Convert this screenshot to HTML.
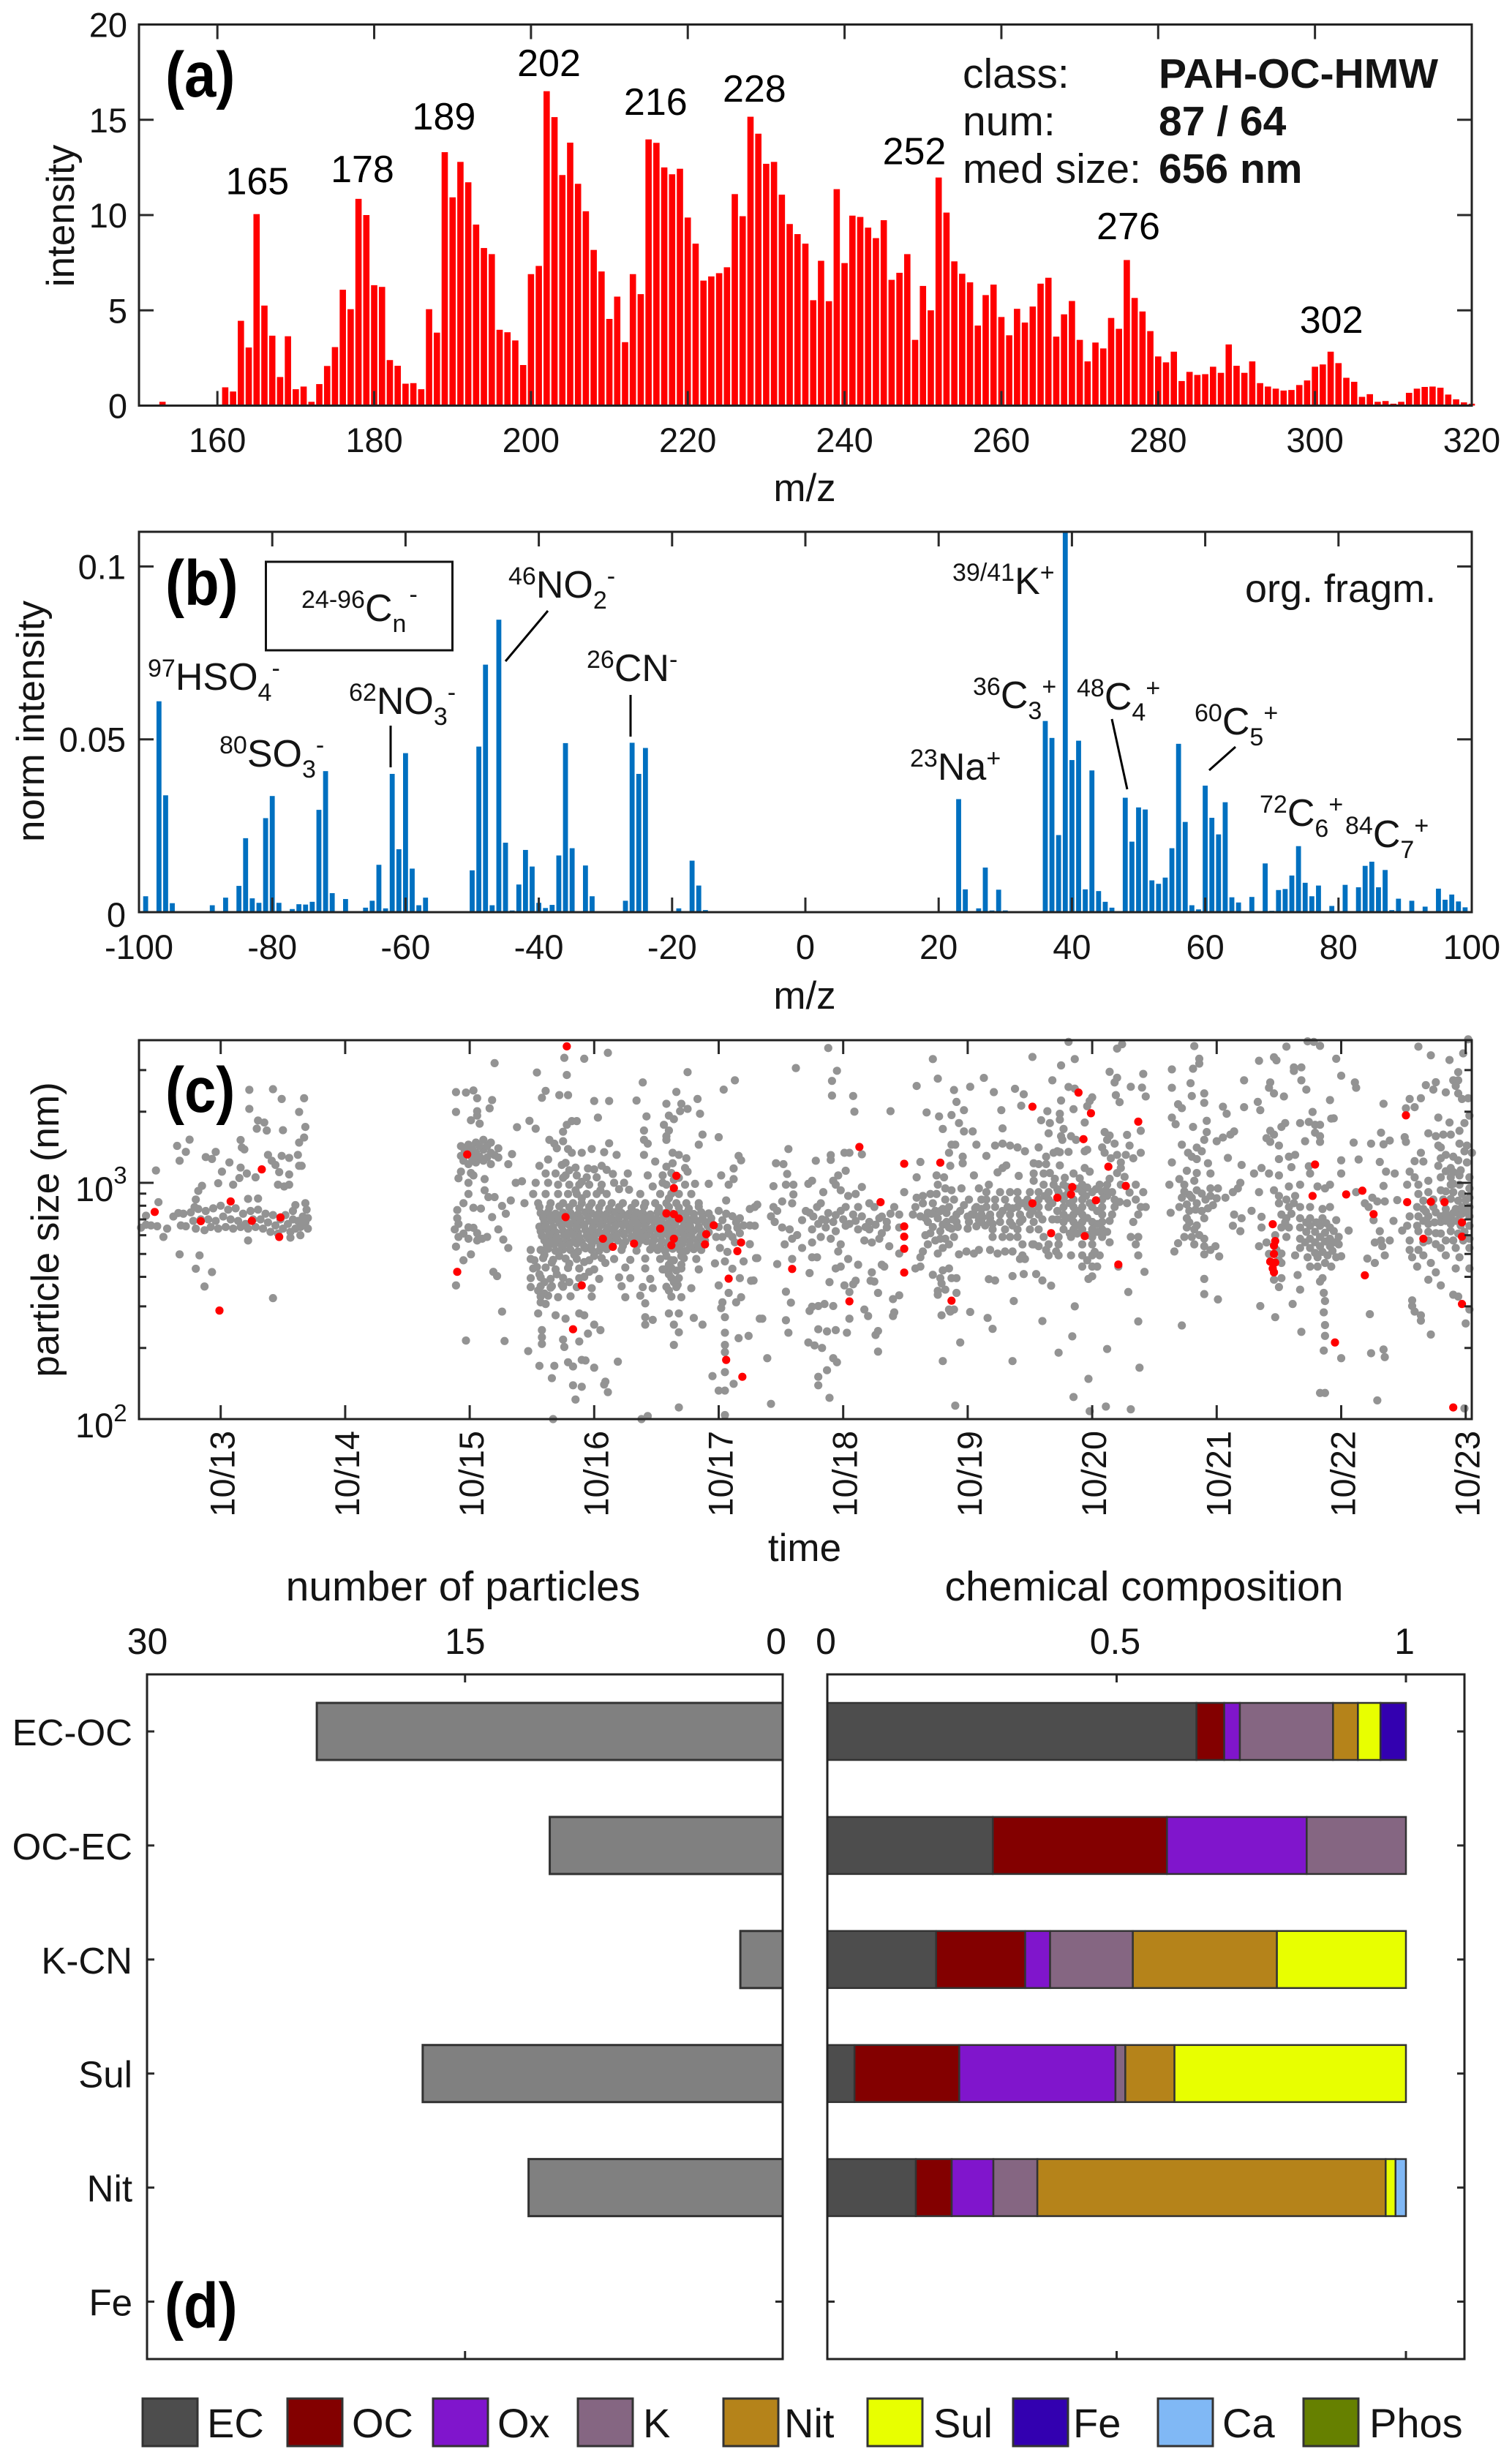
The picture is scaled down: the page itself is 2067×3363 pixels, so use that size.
<!DOCTYPE html>
<html lang="en">
<head>
<meta charset="utf-8">
<title>PAH-OC-HMW particle class</title>
<style>
html,body{margin:0;padding:0;background:#fff}
svg{display:block}
text{font-family:"Liberation Sans",sans-serif;fill:#141414}
.ann{fill:#000}
.pl{font-weight:bold;font-size:78px;fill:#000}
</style>
</head>
<body>
<svg id="fig" xmlns="http://www.w3.org/2000/svg" width="2067" height="3363" viewBox="0 0 2067 3363">
<rect width="2067" height="3363" fill="#fff"/>
<defs><clipPath id="clipB"><rect x="190" y="727" width="1822" height="520"/></clipPath></defs>
<g id="layerA"></g>
<g id="layerB"></g>
<g id="layerC"></g>
<g id="layerD"></g>

<text class="pl" transform="translate(226,132) scale(1,1.12)">(a)</text>
<text x="1100" y="685" font-size="53" text-anchor="middle">m/z</text>
<text transform="translate(101,295) rotate(-90)" font-size="53" text-anchor="middle">intensity</text>
<g font-size="57" class="ann">
<text x="1316" y="120">class:</text>
<text x="1316" y="185">num:</text>
<text x="1316" y="250">med size:</text>
<text x="1584" y="120" font-weight="bold">PAH-OC-HMW</text>
<text x="1584" y="185" font-weight="bold">87 / 64</text>
<text x="1584" y="250" font-weight="bold">656 nm</text>
</g>

<text class="pl" transform="translate(226,827) scale(1,1.12)">(b)</text>
<text x="1100" y="1379" font-size="53" text-anchor="middle">m/z</text>
<text transform="translate(60,986) rotate(-90)" font-size="53" text-anchor="middle">norm intensity</text>
<rect x="363.5" y="768" width="255" height="121" fill="none" stroke="#111" stroke-width="3"/>
<g font-size="52" class="ann">
<text x="412" y="849"><tspan font-size="34" dy="-18">24-96</tspan><tspan dy="18">C</tspan><tspan font-size="34" dy="15">n</tspan><tspan font-size="34" dy="-40" dx="4">-</tspan></text>
<text x="202" y="943"><tspan font-size="34" dy="-18">97</tspan><tspan dy="18">HSO</tspan><tspan font-size="34" dy="15">4</tspan><tspan font-size="34" dy="-33">-</tspan></text>
<text x="300" y="1048"><tspan font-size="34" dy="-18">80</tspan><tspan dy="18">SO</tspan><tspan font-size="34" dy="15">3</tspan><tspan font-size="34" dy="-33">-</tspan></text>
<text x="477" y="976"><tspan font-size="34" dy="-18">62</tspan><tspan dy="18">NO</tspan><tspan font-size="34" dy="15">3</tspan><tspan font-size="34" dy="-33">-</tspan></text>
<text x="695" y="817"><tspan font-size="34" dy="-18">46</tspan><tspan dy="18">NO</tspan><tspan font-size="34" dy="15">2</tspan><tspan font-size="34" dy="-33">-</tspan></text>
<text x="802" y="931"><tspan font-size="34" dy="-18">26</tspan><tspan dy="18">CN</tspan><tspan font-size="34" dy="-18">-</tspan></text>
<text x="1302" y="812"><tspan font-size="34" dy="-18">39/41</tspan><tspan dy="18">K</tspan><tspan font-size="34" dy="-18">+</tspan></text>
<text x="1330" y="968"><tspan font-size="34" dy="-18">36</tspan><tspan dy="18">C</tspan><tspan font-size="34" dy="15">3</tspan><tspan font-size="34" dy="-33">+</tspan></text>
<text x="1472" y="970"><tspan font-size="34" dy="-18">48</tspan><tspan dy="18">C</tspan><tspan font-size="34" dy="15">4</tspan><tspan font-size="34" dy="-33">+</tspan></text>
<text x="1244" y="1066"><tspan font-size="34" dy="-18">23</tspan><tspan dy="18">Na</tspan><tspan font-size="34" dy="-18">+</tspan></text>
<text x="1633" y="1004"><tspan font-size="34" dy="-18">60</tspan><tspan dy="18">C</tspan><tspan font-size="34" dy="15">5</tspan><tspan font-size="34" dy="-33">+</tspan></text>
<text x="1722" y="1129"><tspan font-size="34" dy="-18">72</tspan><tspan dy="18">C</tspan><tspan font-size="34" dy="15">6</tspan><tspan font-size="34" dy="-33">+</tspan></text>
<text x="1839" y="1158"><tspan font-size="34" dy="-18">84</tspan><tspan dy="18">C</tspan><tspan font-size="34" dy="15">7</tspan><tspan font-size="34" dy="-33">+</tspan></text>
<text x="1702" y="823" font-size="54">org. fragm.</text>
</g>
<g stroke="#000" stroke-width="3">
<line x1="749" y1="835" x2="691" y2="904"/>
<line x1="534" y1="992" x2="534" y2="1049"/>
<line x1="862" y1="950" x2="862" y2="1007"/>
<line x1="1520" y1="983" x2="1541" y2="1079"/>
<line x1="1689" y1="1021" x2="1653" y2="1053"/>
</g>

<text class="pl" transform="translate(226,1520) scale(1,1.12)">(c)</text>
<text x="1100" y="2134" font-size="53" text-anchor="middle">time</text>
<text transform="translate(80,1681) rotate(-90)" font-size="53" text-anchor="middle">particle size (nm)</text>
<text x="103" y="1642" font-size="47">10<tspan font-size="33" dy="-24">3</tspan></text>
<text x="103" y="1965" font-size="47">10<tspan font-size="33" dy="-22">2</tspan></text>

<text class="pl" transform="translate(225,3182) scale(1,1.12)">(d)</text>
<text x="633" y="2188" font-size="57" text-anchor="middle">number of particles</text>
<text x="1564" y="2188" font-size="57" text-anchor="middle">chemical composition</text>
<g id="legend"></g>
</svg>
<script>
// ---------- panel (a) data ----------
const massA=[153,161,162,163,164,165,166,167,168,169,170,171,172,173,174,175,176,177,178,179,180,181,182,183,184,185,186,187,188,189,190,191,192,193,194,195,196,197,198,199,200,201,202,203,204,205,206,207,208,209,210,211,212,213,214,215,216,217,218,219,220,221,222,223,224,225,226,227,228,229,230,231,232,233,234,235,236,237,238,239,240,241,242,243,244,245,246,247,248,249,250,251,252,253,254,255,256,257,258,259,260,261,262,263,264,265,266,267,268,269,270,271,272,273,274,275,276,277,278,279,280,281,282,283,284,285,286,287,288,289,290,291,292,293,294,295,296,297,298,299,300,301,302,303,304,305,306,307,308,309,310,311,312,313,314,315,316,317,318,319,320];
const intensityA=[0.2,0.96,0.74,4.45,3.05,10.05,5.25,3.67,1.5,3.64,0.86,1.0,0.2,1.13,2.08,3.07,6.08,5.06,10.85,10,6.32,6.23,2.39,2.09,1.15,1.18,0.86,5.06,3.83,13.3,10.93,12.79,11.72,9.5,8.27,7.95,3.98,3.85,3.42,2.13,6.9,7.33,16.5,15.14,12.1,13.8,11.64,10.2,8.17,7.04,4.55,5.72,3.33,6.9,5.85,13.97,13.79,12.5,12.14,12.43,9.87,8.5,6.56,6.78,6.95,7.26,11.1,9.94,15.16,14.27,12.69,12.79,11.07,9.53,9.0,8.5,5.53,7.6,5.48,11.36,7.48,9.97,9.9,9.34,8.79,9.73,6.6,6.97,7.95,3.45,6.28,5.0,11.97,10.13,7.57,6.92,6.47,4.2,5.8,6.35,4.65,3.69,5.08,4.36,5.2,6.4,6.71,3.62,4.79,5.49,3.45,2.32,3.31,3.0,4.6,4.03,7.64,5.65,4.94,3.91,2.58,2.27,2.83,1.29,1.77,1.61,1.65,2.04,1.72,3.21,2.09,1.72,2.32,1.18,1.0,0.89,0.79,0.82,1.08,1.32,2.04,2.16,2.83,2.23,1.46,1.25,0.46,0.6,0.2,0.24,0.1,0.2,0.67,0.89,0.98,1.0,0.94,0.58,0.33,0.17,0.1];
const ticksAx=[160,180,200,220,240,260,280,300,320];
const ticksAy=[0,5,10,15,20];
const peakLabels=['165','178','189','202','216','228','252','276','302'];
const peakLabelMass=[165.1,178.5,188.9,202.3,215.9,228.5,248.9,276.2,302.1];
const peakLabelHeight=[11.09,11.73,14.49,17.29,15.26,15.95,12.67,8.73,3.82];

// ---------- panel (b) data ----------
const mzB=[-99,-98,-97,-96,-95,-93,-89,-88,-87,-85,-84,-83,-82,-81,-80,-79,-78,-77,-76,-75,-74,-73,-72,-71,-69,-67,-66,-65,-64,-63,-62,-61,-60,-59,-58,-57,-55,-53,-51,-50,-49,-48,-47,-46,-45,-44,-43,-42,-41,-40,-39,-38,-37,-36,-35,-33,-32,-31,-27,-26,-25,-24,-19,-17,-16,-15,-13,15,19,23,24,25,26,27,28,29,30,36,37,38,39,40,41,42,43,44,45,46,48,49,50,51,52,53,54,55,56,57,58,59,60,61,62,63,64,65,67,69,70,71,72,73,74,75,76,77,79,81,83,84,85,86,87,88,89,91,93,95,96,97,98,99];
const normB=[0.0046,0.0002,0.061,0.0338,0.0026,0.0003,0.002,0.0003,0.0042,0.0076,0.0214,0.004,0.0027,0.0272,0.0336,0.0027,0.0002,0.0009,0.0023,0.0022,0.003,0.0296,0.0408,0.0055,0.0038,0.0002,0.0013,0.0033,0.0137,0.0011,0.04,0.0182,0.046,0.0126,0.002,0.0042,0.0002,0.0002,0.0002,0.0121,0.0479,0.0716,0.002,0.0846,0.0201,0.0005,0.008,0.018,0.0132,0.0027,0.0012,0.0021,0.0164,0.0489,0.0185,0.0135,0.0046,0.0002,0.0033,0.049,0.04,0.0475,0.0011,0.0149,0.0077,0.0006,0.0002,0.0002,0.0002,0.0327,0.0066,0.0002,0.0011,0.0129,0.0005,0.0065,0.0005,0.0553,0.0504,0.0223,0.14,0.044,0.0496,0.0066,0.041,0.0061,0.003,0.0013,0.0331,0.0204,0.0303,0.0297,0.0092,0.0082,0.01,0.0185,0.0487,0.0261,0.002,0.0008,0.0366,0.0273,0.0225,0.0318,0.0043,0.0028,0.0044,0.0141,0.0004,0.0064,0.0067,0.0106,0.0191,0.0085,0.0046,0.0077,0.0018,0.0079,0.0072,0.0134,0.0146,0.0072,0.0122,0.0006,0.0039,0.0033,0.0016,0.0068,0.0036,0.0051,0.0031,0.0014];
const ticksBx=[-100,-80,-60,-40,-20,0,20,40,60,80,100];
const ticksBy=[0,0.05,0.1];
const tickLabelsBy=['0','0.05','0.1'];

// ---------- panel (c) data: alternating day-of-October, size in nm ----------
const greyOct12to13=[12.48,1128,12.5,828,12.4,726,12.36,646,12.54,590,12.67,498,12.65,1433,12.75,1523,12.72,1352,12.67,1240,12.88,1285,12.93,1262,12.96,1352,12.85,971,12.82,924,12.8,850,12.79,789,12.98,996,13.01,1115,13.07,1220,13.16,1518,13.17,1411,13.19,1385,13.16,1160,13.15,1048,13.1,982,13.23,2475,13.23,2055,13.3,1835,13.35,1800,13.29,1695,13.37,1665,13.42,2490,13.49,2264,13.5,1670,13.63,1995,13.67,2280,13.68,1724,13.67,1555,13.63,1480,13.62,1313,13.55,1275,13.49,1300,13.38,1313,13.41,1240,13.44,1190,13.47,1110,13.55,1085,13.63,1180,13.65,1180,13.46,982,13.51,965,13.55,982,13.28,1055,13.21,1095,13.22,855,13.3,858,12.8,433,12.93,419,12.83,493,12.87,364,13.42,325,13.22,570,13.56,586,13.64,600,13.68,820,13.6,805,13.58,760,12.4,665,12.44,660,12.49,655,12.57,640,12.62,720,12.66,745,12.68,660,12.7,740,12.72,655,12.76,750,12.78,690,12.8,640,12.82,775,12.84,700,12.87,630,12.88,760,12.9,700,12.92,650,12.94,780,12.96,690,12.98,640,13,800,13.02,720,13.04,650,13.06,770,13.08,700,13.1,640,13.12,780,13.14,690,13.16,650,13.18,740,13.2,670,13.22,640,13.24,760,13.26,700,13.28,650,13.3,770,13.32,700,13.34,640,13.36,740,13.38,680,13.4,620,13.42,730,13.44,660,13.46,610,13.48,700,13.5,640,13.52,730,13.54,670,13.56,620,13.58,700,13.6,640,13.62,690,13.64,650,13.66,720,13.68,680,13.7,640,13.7,710,13.69,770];
const greyOct15=[14.89,2420,14.89,1995,14.97,2410,15.03,2460,15.06,2280,15.18,2240,15.16,2067,15.06,2010,15.06,1925,15.01,1840,15.08,1780,14.93,1430,14.93,1300,14.99,1450,14.99,1320,14.99,1200,15.05,1480,15.05,1340,15.05,1220,15.11,1520,15.11,1380,15.11,1240,15.17,1480,15.17,1340,15.17,1200,15.23,1400,15.23,1280,15.01,1100,15.31,1199,15.34,1323,14.91,1045,14.93,1115,15.03,1075,14.99,1000,14.99,897,15.12,1037,15.12,930,15.15,870,15.2,870,15.09,778,15.03,784,14.9,767,14.95,820,14.9,708,15.18,716,15.26,798,15.29,740,15.33,842,14.88,635,14.91,670,14.91,590,14.95,610,14.99,580,15.03,645,15.06,612,15.1,580,15.14,590,15.06,570,14.99,648,14.89,537,15.23,635,15.27,575,15.31,530,14.95,470,15.01,498,15.19,420,15.22,403,14.89,368,15.26,285,14.97,215,15.28,214,15.2,3210,14.96,1370,15.02,1390,15.08,1290,15.14,1430,15.2,1310,14.95,1240,15.08,1430,15.14,1280,15.02,1270];
const greyOct16Upper=[16.11,3550,15.92,3350,15.76,3380,15.78,2860,15.54,2930,15.61,2450,15.58,2290,15.72,2350,15.79,2350,16,2220,16.12,2220,16.03,1888,16.39,2660,16.34,2230,16.66,2425,16.75,2940,16.83,2264,16.58,2160,16.7,2160,16.75,2055,16.69,2010,16.85,1960,16.6,1925,16.42,1910,16.64,1860,16.56,1760,16.6,1665,16.58,1575,16.58,1520,16.4,1665,16.4,1520,16.43,1465,16.87,1600,16.84,1450,15.48,1830,15.53,1695,15.38,1720,15.86,1825,15.82,1825,15.78,1760,15.75,1645,15.64,1520,15.75,1500,15.68,1465,15.79,1390,15.82,1340,15.9,1340,15.98,1390,16.12,1470,16.08,1348,16.18,1313,16.4,1313,16.63,1340,16.68,1313,16.74,1270,15.7,1400,15.63,1255,15.56,1180,15.74,1190,15.77,1215,16.49,1230,16.58,1170,16.06,1180,16.1,1135,16.27,1095,16.43,1075,16.55,1075,16.73,1155,16.75,1115,16.81,990,16.92,990,16.24,1000,16.28,935,15.37,1000,15.42,1015,15.61,1095,15.69,1095,15.77,1075,15.86,1075,15.94,1055,16.02,1055,15.53,1000,15.63,1000,15.71,982,15.8,982,15.88,982,15.96,982,16.06,982,16.47,965,16.58,982,16.73,982,15.51,897,15.61,897,15.71,897,15.79,897,15.86,897,15.94,897,16.02,897,16.1,897,16.37,897,16.53,897,16.68,897,16.78,897,15.44,820,15.55,820,15.65,820,15.75,820,15.83,820,15.9,820,15.98,820,16.06,820,16.14,820,16.23,820,16.33,820,16.41,820,16.49,820,16.58,820,16.66,820,16.74,820,16.84,820];
const greyOct16Band=[15.57,745,15.63,752,15.69,740,15.75,748,15.81,745,15.87,735,15.93,750,15.98,742,16.04,745,16.1,738,16.16,752,16.22,745,16.28,740,16.34,748,16.39,745,16.45,735,16.51,750,16.57,745,16.63,740,16.69,748,16.74,745,16.8,738,16.86,750,16.92,742,15.6,683,15.66,690,15.72,678,15.78,685,15.84,683,15.9,675,15.96,690,16.01,683,16.07,680,16.13,688,16.19,683,16.25,678,16.31,690,16.37,683,16.42,680,16.48,685,16.54,683,16.6,675,16.66,690,16.72,683,16.77,680,16.83,688,16.89,683,16.94,678,15.57,624,15.63,630,15.69,618,15.75,626,15.81,624,15.87,615,15.93,632,15.98,624,16.04,620,16.1,628,16.16,624,16.22,618,16.28,632,16.34,624,16.39,620,16.45,626,16.51,624,16.57,618,16.63,630,16.69,624,16.74,620,16.8,628,16.86,624,16.92,618,15.6,570,15.66,576,15.72,565,15.78,572,15.84,570,15.9,562,15.96,578,16.01,570,16.07,566,16.13,574,16.19,570,16.25,564,16.31,578,16.37,570,16.42,566,16.48,572,16.54,570,16.6,564,16.66,576,16.72,570,16.77,566,16.83,574,16.89,570,15.49,520,15.57,520,15.63,526,15.69,515,15.75,522,15.81,520,15.87,512,15.93,528,15.98,520,16.04,516,16.1,524,16.22,520,16.34,516,16.45,522,16.51,520,16.57,514,16.63,526,16.69,520,16.74,516,16.8,524,16.86,520];
const greyOct16Fill=[15.59,712,15.65,718,15.71,708,15.77,715,15.83,722,15.89,705,15.95,716,16.02,710,16.08,719,16.14,706,16.2,714,16.26,721,16.32,708,16.38,716,16.44,712,16.5,705,16.56,718,16.62,711,16.68,722,16.74,707,16.8,715,16.87,709,15.56,652,15.61,660,15.67,648,15.74,656,15.8,663,15.86,645,15.92,657,15.99,650,16.05,661,16.11,646,16.17,655,16.23,662,16.29,649,16.35,658,16.41,652,16.47,644,16.53,659,16.59,651,16.65,663,16.71,647,16.77,656,16.84,650,16.91,660,15.58,597,15.64,602,15.7,590,15.76,600,15.82,606,15.88,588,15.94,598,16,594,16.06,604,16.12,590,16.18,597,16.24,603,16.3,592,16.36,600,16.42,596,16.48,588,16.54,601,16.6,594,16.66,606,16.72,590,16.78,599,16.85,593,15.62,545,15.68,550,15.74,540,15.8,548,15.86,553,15.92,538,15.98,547,16.05,543,16.11,552,16.23,540,16.35,550,16.47,544,16.53,538,16.59,549,16.65,544,16.71,553,16.77,540,16.83,548,15.56,790,15.64,785,15.72,795,15.8,788,15.88,780,15.96,792,16.04,786,16.12,778,16.2,790,16.3,784,16.4,792,16.52,782,16.6,790,16.68,786,16.76,778,16.84,792,15.52,470,15.6,495,15.66,460,15.72,490,15.8,455,15.84,496,15.92,462,16,490,16.09,458,16.58,490,16.6,450,16.64,470,16.66,425,16.6,410,16.64,380,16.6,350,16.7,490,16.7,450,16.56,430,16.67,370,15.54,440,15.56,410,15.6,380,15.55,350,15.7,410,15.74,370,15.6,340,15.66,365,15.8,380,15.92,400,15.96,420,16.62,900,16.6,860,16.64,1030,16.62,1100,16.55,1000,16.68,1050,16.63,1210,15.85,930,15.9,1010,15.8,1130,15.75,1050,15.85,1160,15.95,1150,15.9,860,16,1140,16.05,930,16.15,1090,16.2,940,16.16,1000];
const greyOct16Low=[15.49,476,15.59,480,15.67,472,15.77,478,15.86,476,15.96,470,16.06,480,16.16,476,16.29,472,16.41,478,16.53,476,16.62,470,16.72,480,16.82,476,15.51,434,15.61,438,15.69,430,15.79,436,15.88,434,16,430,16.25,438,16.41,434,16.55,430,16.62,436,16.7,434,16.84,430,15.49,395,15.57,398,15.65,392,15.75,396,15.88,395,16.04,392,16.2,398,16.29,395,16.45,392,16.62,396,16.68,395,15.49,362,15.57,365,15.65,360,15.75,363,15.86,362,15.98,358,16.22,365,16.39,362,16.47,358,16.58,363,16.66,362,16.78,358,15.57,330,15.63,333,15.71,328,15.81,331,15.98,330,16.25,328,16.37,333,16.62,330,16.7,328,15.57,312,15.55,280,15.61,307,15.69,275,15.77,266,15.88,280,15.92,275,16.41,309,16.41,270,16.47,263,16.41,251,16.6,280,16.68,280,16.64,251,16.8,268,16.87,251,16,251,16.05,238,15.58,238,15.58,222,15.58,208,15.75,217,15.76,202,15.88,213,15.95,230,16.68,233,16.64,206,15.47,194,15.56,168,15.68,168,15.79,174,15.83,167,15.9,178,15.93,177,16,165,16.19,175,15.66,149,15.83,139,15.9,137,15.85,121,16.09,144,16.08,140,16.11,130,16.68,112,15.67,100,16.38,100,16.43,103];
const greyOct17=[17.13,2715,17.04,2480,17,1560,17.16,1300,17.18,1245,17.12,1150,17.02,1075,17.08,982,17.12,1037,17.06,842,17,761,16.94,708,17.03,695,17.11,722,17.17,708,17.25,660,17.29,790,17.25,775,17.07,645,17.15,645,17.03,590,17.11,590,17.17,612,17.07,510,17.01,530,17.25,550,17.3,480,16.97,456,17.05,465,17.2,465,17.11,433,17.17,395,17.26,385,17,368,17.08,342,17.18,328,17.14,312,17.03,312,17.02,295,17.05,270,17.05,232,17.16,220,17.24,225,17.05,206,17.05,192,16.95,152,17.05,158,17,132,17.05,132,17.12,141,17.05,104,17.33,266,17.06,740,17.14,680,17.2,660,17,650,17.08,610,17.13,560,16.98,590];
const greyOct18=[17.62,3060,17.88,3720,17.95,2980,17.91,2700,17.91,2340,18.08,2330,18.09,2000,18.38,2010,17.56,1390,17.46,1210,17.52,1200,17.55,1090,17.78,1240,17.9,1310,17.9,1250,18.01,1340,18.05,1340,18.15,1320,18.02,1125,17.96,1075,17.44,968,17.54,982,17.6,982,17.6,893,17.72,990,17.75,1020,17.84,913,17.92,1020,17.94,982,17.98,930,18.04,880,18.1,897,18.15,960,17.31,808,17.44,790,17.47,761,17.42,721,17.45,683,17.51,647,17.57,635,17.51,834,17.59,819,17.67,695,17.73,747,17.79,790,17.82,819,17.86,695,17.92,683,17.98,761,18.02,790,18.08,734,18.12,790,18.21,819,18.25,790,18.15,721,18.21,683,18.29,708,18.35,683,18.41,790,18.45,734,17.75,635,17.8,670,17.86,647,17.94,624,18.02,658,18.12,635,18.21,635,18.31,612,18.35,647,18.45,647,17.29,658,17.59,580,17.53,549,17.63,601,17.67,530,17.75,559,17.82,590,17.9,580,17.98,549,17.79,484,17.75,484,17.96,512,18.04,476,18.12,450,18.17,570,18.23,559,18.29,580,18.37,539,18.45,502,17.47,453,17.59,476,17.73,415,17.94,434,17.98,442,18.23,418,18.33,442,18.31,450,17.31,480,17.89,380,17.28,386,18.01,368,18.1,385,18.08,372,18.25,382,18.22,385,18.05,345,17.54,346,17.58,311,18.28,342,18.45,334,18.4,322,17.73,287,17.75,299,17.8,301,17.85,307,17.92,301,18.17,291,18.2,273,18.41,283,18.4,273,17.35,266,17.54,262,18.05,266,17.56,232,17.8,240,17.87,235,17.94,238,18.03,232,18.28,236,18.26,227,17.72,211,17.77,205,17.83,200,18.28,193,17.39,181,17.92,181,17.95,174,17.87,161,17.8,151,17.8,139,17.89,123,17.42,116,17.7,760,17.76,720,17.83,700,17.88,745,17.94,730,18,700,18.05,670,18.1,690,18.18,650,18.26,665,18.31,720,18.38,740];
const greyOct19=[18.72,3340,18.76,2760,18.59,2570,18.89,2470,19.02,2550,19.13,2780,18.91,2200,18.97,2030,18.67,1985,18.77,1910,18.87,1935,18.93,1790,18.8,1690,18.97,1650,19.04,1650,19.28,1700,19.21,2420,19.38,2500,19.45,2370,19.43,2120,19.27,2030,19.07,1450,18.9,1450,18.87,1450,18.85,1340,18.96,1290,18.96,1210,18.62,1225,18.86,1180,18.59,1055,18.75,1075,18.81,1055,18.76,982,19.05,1075,19.15,1300,19.22,1438,19.28,1465,19.34,1438,19.4,1412,19.46,1360,19.31,1185,19.28,1155,19.24,1107,19.41,1070,19.53,1210,19.57,1200,19.63,1290,19.69,1340,19.74,1348,19.81,1352,19.57,1412,18.49,913,18.59,865,18.64,880,18.7,897,18.75,897,18.82,947,18.87,930,18.95,947,18.56,734,18.62,721,18.68,747,18.74,761,18.8,775,18.85,790,18.91,734,18.97,804,19.05,734,19.11,775,19.15,849,19.09,947,19.17,982,18.64,819,18.72,819,18.82,849,18.89,849,19.01,849,18.58,790,18.68,683,18.76,708,18.83,683,18.91,683,19.01,683,19.09,695,19.18,708,18.7,612,18.78,624,18.85,647,18.74,570,18.82,580,18.89,590,18.68,549,18.8,530,18.85,549,18.64,512,18.62,484,18.76,502,18.93,498,18.99,512,19.05,502,19.09,520,19.18,520,19.24,502,19.3,512,19.36,512,18.62,442,18.58,434,18.72,408,18.8,426,18.85,434,18.87,395,18.91,395,18.78,395,18.79,375,18.76,349,18.76,336,18.82,353,18.91,342,18.86,285,18.89,291,18.79,275,18.85,291,19.02,284,19.16,268,19.2,241,18.94,211,18.8,176,18.9,114,19.37,316,19.6,260,19.36,176,19.17,391,19.22,386,19.36,403,19.45,411,19.55,411,19.6,386,19.67,367,19.46,476,19.42,476,19.44,493,19.52,549,19.44,549,19.57,539,19.63,520,19.71,512,19.73,549,18.66,710,18.71,740,18.78,760,18.83,745,18.88,700,18.94,760,19,720,19.06,780,19.12,715,18.72,650,18.8,665,18.87,640,18.66,600,18.78,580,18.92,650,19,640,19.07,655,19.14,660,19.2,670];
const greyOct20=[19.52,3410,19.81,3950,19.75,3140,19.86,3340,19.68,2715,19.81,2545,19.86,2505,19.75,2230,19.64,2010,19.74,1960,19.85,2050,19.98,2220,20,2300,19.96,2110,19.59,1840,19.66,1790,19.74,1850,19.94,1800,19.65,1620,19.77,1690,19.83,1575,19.75,1575,19.76,1520,19.87,1520,20.1,1640,20.14,1585,20.12,1520,20.28,1595,20.39,1660,20.2,3700,20.24,3860,20.14,2950,20.2,2785,20.18,2660,20.41,2890,20.4,2530,20.31,2550,20.43,2320,20.19,2350,20.22,2195,20.08,1412,20.1,1340,20.18,1465,20.3,1438,20.15,1270,20.2,1313,20.27,1313,20.39,1340,20.33,1270,20.23,1220,20.23,1155,19.94,1360,19.96,1380,19.72,1360,19.63,1200,19.74,1185,19.94,1155,19.98,1115,19.61,1095,19.53,1095,19.53,1020,19.85,1095,19.61,982,19.69,982,19.77,982,19.92,982,20.06,982,20.12,982,20.23,982,20.35,982,19.15,913,19.26,913,19.34,913,19.4,913,19.5,913,19.57,913,19.65,913,19.73,913,19.81,913,19.92,913,20,913,20.08,913,20.16,913,20.41,913,19.11,849,19.22,849,19.3,849,19.4,849,19.48,849,19.57,849,19.65,849,19.77,849,19.85,849,19.92,849,20.08,849,20.18,849,20.35,849,19.07,790,19.15,790,19.22,790,19.32,790,19.4,790,19.48,790,19.57,790,19.65,790,19.77,790,19.85,790,19.92,790,20,790,20.08,790,20.18,790,20.39,790,20.43,790,19.03,734,19.11,734,19.18,734,19.26,734,19.34,734,19.42,734,19.5,734,19.57,734,19.77,734,19.85,734,19.92,734,20.08,734,20.16,734,20.37,734,19.11,683,19.18,683,19.26,683,19.34,683,19.42,683,19.53,683,19.77,683,19.85,683,19.92,683,20,683,20.08,683,20.33,683,19.2,635,19.3,635,19.4,635,19.5,635,19.57,635,19.77,635,19.85,635,19.92,635,20,635,20.08,635,19.2,590,19.28,590,19.34,590,19.4,590,19.61,590,19.73,590,19.83,590,20,590,20.08,590,20.31,590,20.37,590,19.53,549,19.65,549,19.73,549,19.92,549,20,549,20.35,549,19.65,493,19.73,493,19.83,493,19.92,493,20,493,20.06,493,20.37,493,19.92,442,20,442,20.04,442,20.21,442,20.42,420,19.97,392,20,402,20.29,345,20.37,259,19.86,300,19.84,224,19.73,191,20.12,198,20.38,165,19.97,148,19.85,124,19.98,108,20.11,113,20.31,110];
const greyOct20Fill=[19.62,880,19.68,820,19.72,760,19.78,880,19.82,820,19.88,760,19.95,880,19.98,820,20.04,760,20.12,880,20.22,830,19.72,940,19.8,960,19.88,945,19.96,955,20.03,940,20.11,930,19.68,700,19.72,700,19.81,710,19.88,660,19.96,710,20.04,670,19.82,610,19.88,610,19.96,600,20.04,620,19.44,820,19.52,760,19.6,700,19.36,780,19.44,700,19.28,760,19.36,660,20.14,690,20.12,620,20.14,560,20.02,510,19.96,470,20.28,820,20.26,1060,20.2,1100,20.14,1040,20.3,910,19.7,1040,19.78,1050,19.66,1100,19.9,1045];
const greyOct21=[20.82,3790,20.64,3020,20.86,3350,20.81,3040,20.86,3195,20.79,2640,20.64,2525,20.9,2390,20.8,2330,20.9,2180,20.69,2150,20.72,2070,20.64,1888,20.67,1770,20.81,1724,20.92,1830,20.92,1640,20.9,1520,21.05,2100,21.08,1960,21.22,2090,21.33,2200,21.35,2030,20.72,1450,20.77,1340,20.8,1290,20.84,1410,20.88,1360,20.84,1260,21,1500,21.05,1555,21.11,1600,21.14,1650,20.64,1220,20.76,1125,20.93,1210,21.09,1275,20.84,1100,20.95,1095,21.2,1190,20.62,982,20.7,1037,20.74,982,20.82,1020,20.84,930,20.8,865,20.72,865,20.7,790,20.78,761,20.84,819,20.91,849,20.95,947,21.01,947,21.07,865,20.97,804,21.17,947,21.13,913,21.19,1000,20.63,747,20.76,708,20.76,647,20.82,635,20.74,590,20.8,590,20.9,580,20.86,601,20.9,708,21.14,734,21.2,708,21.28,761,21.13,658,21.19,624,20.69,555,20.66,512,20.82,549,20.9,539,20.99,539,20.95,520,20.9,498,21.02,488,20.9,392,20.9,338,21.01,321,20.72,249,20.78,890,20.83,770,20.76,810,20.88,900,20.95,880,21,860,20.93,780,20.78,680,20.84,660,20.88,760,20.74,920];
const greyOct21to22=[21.34,3285,21.46,3400,21.48,3300,21.56,3770,21.73,3970,21.78,3950,21.83,3800,21.62,3080,21.68,3080,21.62,2975,21.68,2715,21.72,2480,21.22,2715,21.43,2660,21.42,2525,21.46,2390,21.54,2320,21.96,3350,22,2840,21.91,2240,21.77,1995,21.94,1875,21.92,1870,21.55,1790,21.52,1724,21.43,1660,21.46,1600,21.4,1545,21.43,1490,21.5,1438,21.67,1790,21.74,1810,21.79,1760,21.83,1760,21.79,1630,21.83,1575,21.71,1500,21.83,1490,21.58,1290,21.63,1313,21.5,1260,21.6,1165,21.3,1095,21.36,1155,21.42,1095,21.5,1075,21.75,1095,21.74,1175,22,1245,22,1095,21.91,982,21.34,913,21.46,930,21.5,880,21.58,965,21.67,982,21.5,819,21.56,849,21.63,880,21.81,965,21.87,947,21.91,790,21.85,775,21.75,790,21.67,790,21.58,790,21.36,718,21.52,734,21.56,708,21.67,708,21.75,708,21.85,708,21.96,695,21.36,647,21.52,647,21.58,647,21.67,647,21.75,658,21.83,658,21.91,647,22.06,628,21.56,590,21.67,580,21.75,580,21.83,590,21.91,580,21.98,590,21.34,539,21.4,559,21.67,530,21.75,530,21.83,539,21.91,539,21.98,549,21.52,502,21.63,493,21.73,484,21.81,484,21.89,493,21.96,484,22,489,21.52,458,21.75,442,21.81,442,21.87,458,21.92,442,21.65,407,21.46,389,21.52,395,21.83,382,21.85,395,21.5,362,21.67,353,21.86,342,21.87,316,21.35,301,21.61,307,21.47,270,21.86,283,21.87,250,21.68,234,21.87,225,21.86,195,22,181,21.83,129,21.87,129,21.72,620,21.79,620,21.87,615,21.94,625,21.71,560,21.79,560,21.87,565,21.95,560,21.79,505,21.85,510,21.93,515,21.72,680,21.8,680,21.88,675,21.55,680,21.6,740,21.62,820,21.47,600,21.48,520,21.5,470,21.42,500];
const greyOct22=[22.11,2660,22.12,2525,22.34,2160,22.1,1480,22.24,1465,22.34,1455,22.39,1510,22.32,1630,22.14,1255,22.31,1225,22.36,1115,22.43,1095,22.34,970,22.12,913,22.19,819,22.22,790,22.25,865,22.29,834,22.35,834,22.45,845,22.42,690,22.26,695,22.31,624,22.32,570,22.39,570,22.27,559,22.33,539,22.35,493,22.21,478,22.27,458,22.23,278,22.24,190,22.34,197,22.35,183,22.29,120];
const greyOct23=[22.62,3770,22.72,3465,22.87,3310,22.98,3530,23.02,4050,22.94,2940,22.94,2715,22.9,2715,22.92,2570,22.76,2665,22.68,2590,22.74,2480,22.84,2415,22.94,2390,23.02,2280,22.97,2264,22.64,2280,22.55,2264,22.52,2067,22.59,2090,22.78,1888,23.03,1925,22.99,1790,22.87,1800,22.95,1660,22.7,1620,22.82,1600,22.88,1600,22.76,1575,22.51,1560,22.52,1490,22.78,1438,22.8,1412,22.95,1465,23.01,1438,23.05,1340,22.99,1360,22.64,1340,22.84,1313,22.8,1270,22.9,1290,22.94,1245,22.59,1235,22.66,1230,22.78,1180,22.88,1155,23.01,1220,22.55,1115,22.59,1055,22.53,982,22.62,982,22.7,1020,22.8,1055,22.88,1055,22.95,1075,23.03,1055,22.88,982,22.95,982,23.03,947,22.62,897,22.7,913,22.8,930,22.9,913,22.97,897,23.03,865,23.03,790,22.61,790,22.66,775,22.74,790,22.84,775,22.92,775,22.97,790,22.55,721,22.62,721,22.7,721,22.8,721,22.88,721,22.95,734,23.03,721,22.53,658,22.61,658,22.7,670,22.8,683,22.88,670,23.03,658,22.49,628,22.62,624,22.76,612,22.88,624,22.55,570,22.7,570,22.84,570,23.03,580,22.55,520,22.62,520,22.8,530,22.92,530,23.03,530,22.57,484,22.66,493,22.84,493,22.95,484,22.61,442,22.72,458,22.92,434,23.03,434,22.7,389,22.76,418,22.8,368,22.9,336,22.94,330,22.57,318,22.57,301,22.59,285,22.64,275,22.64,261,23.03,291,22.72,228,23,254,22.99,111,22.66,840,22.74,850,22.82,850,22.88,855,22.94,840,23,845,22.68,755,22.76,750,22.84,740,22.9,745,22.97,740,23.01,760,22.66,690,22.75,680,22.84,690,22.92,690,22.96,660,22.7,620,22.8,610,22.94,610,22.99,620,22.66,560,22.76,550,22.9,570,22.98,570,22.9,990,22.84,920,22.96,1130,22.9,1110,22.84,1120];
const classParticles=[12.47,753,12.84,688,13.08,834,13.25,690,13.33,1140,13.48,714,13.47,590,12.99,288,14.9,420,14.98,1318,15.78,3780,15.77,716,16.07,580,16.15,536,16.32,553,16.53,640,16.58,742,16.64,737,16.68,706,16.66,1071,16.64,950,16.64,580,16.62,544,15.9,368,15.83,240,16.9,606,16.89,549,16.96,661,17.18,559,17.15,514,17.08,393,17.06,178,17.19,151,18.13,1418,18.3,828,18.49,1204,18.78,1217,18.49,654,18.49,592,18.49,526,18.49,417,17.59,432,18.05,315,18.87,317,19.52,2100,19.89,2410,19.99,1970,19.93,1530,20.37,1815,20.13,1170,20.27,970,19.84,960,19.83,893,19.72,865,19.52,819,20.03,843,19.67,612,19.94,595,20.21,451,21.79,1195,21.77,880,21.45,668,21.47,567,21.46,542,21.46,500,21.43,464,21.47,460,21.45,434,21.46,418,22.04,893,22.17,926,22.26,737,22.19,406,21.95,211,22.52,1930,22.53,828,22.72,831,22.83,828,22.97,680,22.97,592,22.66,580,22.97,307,22.9,112];
const ticksCx=[13,14,15,16,17,18,19,20,21,22,23];
const tickLabelsCx=['10/13','10/14','10/15','10/16','10/17','10/18','10/19','10/20','10/21','10/22','10/23'];
const ticksCyMajor=[100,1000];
const ticksCyMinor=[200,300,400,500,600,700,800,900,2000,3000];

// ---------- panel (d) data ----------
const mixingStates=['EC-OC','OC-EC','K-CN','Sul','Nit','Fe'];
const particleCounts=[22,11,2,17,12,0];
const componentNames=['EC','OC','Ox','K','Nit','Sul','Fe','Ca','Phos'];
const componentColors=['#4d4d4d','#830000','#8015cc','#856682','#b5831a','#e8ff00','#3300b0','#80b8f5','#668000'];
const fracECOC=[0.638,0.048,0.027,0.161,0.043,0.039,0.044,0,0];
const fracOCEC=[0.286,0.301,0.2415,0.1715,0,0,0,0,0];
const fracKCN=[0.188,0.154,0.043,0.143,0.249,0.223,0,0,0];
const fracSul=[0.047,0.181,0.27,0.017,0.085,0.4,0,0,0];
const fracNit=[0.153,0.062,0.072,0.076,0.602,0.017,0,0.018,0];
const fracFe=[0,0,0,0,0,0,0,0,0];
const ticksDcount=[30,15,0];
const ticksDfrac=[0,0.5,1];
const tickLabelsDfrac=['0','0.5','1'];

// ---------- helpers and axes ----------
const NS='http://www.w3.org/2000/svg';
function mk(parent,tag,attrs,txt){
  const el=document.createElementNS(NS,tag);
  for(const k in attrs){el.setAttribute(k,attrs[k]);}
  if(txt!==undefined){el.textContent=txt;}
  parent.appendChild(el);
  return el;
}
function tickLine(parent,x1,y1,x2,y2){
  const el=mk(parent,'line',{x1:x1,y1:y1,x2:x2,y2:y2,stroke:'#2a2a2a','stroke-width':3});
  
  
}
function frame(parent,x,y,w,h){
  const el=mk(parent,'rect',{x:x,y:y,width:w,height:h,fill:'none',stroke:'#222','stroke-width':3});
  
  
}
const aX=m=>190+(m-150)*(1822/170);
const aY=v=>554.5-v*26.05;
const bX=m=>190+(m+100)*9.11;
const bY=v=>1247-v*4726;
const cX=t=>301.7+(t-13)*170.2;
const cY=s=>1617-(Math.log10(s)-3)*323;
const dCount=n=>1070-n*28.95;
const dFrac=f=>1131+f*791;
const dRow=i=>2367+i*155.9;

// panel a
const LA=document.getElementById('layerA');
massA.forEach((m,i)=>{
  const el=mk(LA,'rect',{x:aX(m)-4.3,y:aY(intensityA[i]),width:8.6,height:aY(0)-aY(intensityA[i]),fill:'#ff0000'});
  
  
});
ticksAx.forEach(v=>{
  if(v<320){tickLine(LA,aX(v),aY(0),aX(v),aY(0)-20);tickLine(LA,aX(v),aY(20),aX(v),aY(20)+20);}
  const el=mk(LA,'text',{x:aX(v),y:618,'font-size':47,'text-anchor':'middle'},String(v));
  
  
});
ticksAy.forEach(v=>{
  if(v>0&&v<20){tickLine(LA,190,aY(v),210,aY(v));tickLine(LA,2012,aY(v),1992,aY(v));}
  const el=mk(LA,'text',{x:174,y:aY(v)+17,'font-size':47,'text-anchor':'end'},String(v));
  
  
});
frame(LA,190,33.5,1822,521);
peakLabels.forEach((lab,i)=>{
  const el=mk(LA,'text',{x:aX(peakLabelMass[i]),y:aY(peakLabelHeight[i]),'font-size':52,'text-anchor':'middle',class:'ann'},lab);
  
  
});

// panel b
const LB=document.getElementById('layerB');
const gB=mk(LB,'g',{'clip-path':'url(#clipB)'});


mzB.forEach((m,i)=>{
  const el=mk(gB,'rect',{x:bX(m)-3.4,y:bY(normB[i]),width:6.8,height:bY(0)-bY(normB[i]),fill:'#0070c0'});
  
  
});
ticksBx.forEach(v=>{
  if(v>-100&&v<100){tickLine(LB,bX(v),bY(0),bX(v),bY(0)-20);tickLine(LB,bX(v),727,bX(v),747);}
  const el=mk(LB,'text',{x:bX(v),y:1311,'font-size':47,'text-anchor':'middle'},String(v));
  
  
});
ticksBy.forEach((v,i)=>{
  if(v>0){tickLine(LB,190,bY(v),210,bY(v));tickLine(LB,2012,bY(v),1992,bY(v));}
  const el=mk(LB,'text',{x:172,y:bY(v)+(v>0?17:20),'font-size':47,'text-anchor':'end'},tickLabelsBy[i]);
  
  
});
frame(LB,190,727,1822,520);

// panel c
const LC=document.getElementById('layerC');
[greyOct12to13,greyOct15,greyOct16Upper,greyOct16Band,greyOct16Fill,greyOct16Low,greyOct17,greyOct18,greyOct19,greyOct20,greyOct20Fill,greyOct21,greyOct21to22,greyOct22,greyOct23].forEach(series=>{
  for(let i=0;i+1<series.length;i+=2){
    const el=mk(LC,'circle',{cx:cX(series[i]),cy:cY(series[i+1]),r:5.6,fill:'#939393'});
    
    
  }
});
for(let i=0;i+1<classParticles.length;i+=2){
  const el=mk(LC,'circle',{cx:cX(classParticles[i]),cy:cY(classParticles[i+1]),r:5.6,fill:'#ff0000'});
  
  
}
ticksCx.forEach((v,i)=>{
  tickLine(LC,cX(v),1940,cX(v),1921);tickLine(LC,cX(v),1422,cX(v),1441);
  const el=mk(LC,'text',{transform:'translate('+(cX(v)+19)+',1956) rotate(-90)','font-size':47,'text-anchor':'end'},tickLabelsCx[i]);
  
  
});
ticksCyMinor.forEach(v=>{tickLine(LC,190,cY(v),200,cY(v));tickLine(LC,2012,cY(v),2002,cY(v));});
ticksCyMajor.forEach(v=>{if(v>100){tickLine(LC,190,cY(v),210,cY(v));tickLine(LC,2012,cY(v),1992,cY(v));}});
frame(LC,190,1422,1822,518);

// panel d
const LD=document.getElementById('layerD');
mixingStates.forEach((name,i)=>{
  const lab=mk(LD,'text',{x:181,y:dRow(i)+19,'font-size':51,'text-anchor':'end'},name);
  
  
  tickLine(LD,201,dRow(i),211,dRow(i));tickLine(LD,1070,dRow(i),1060,dRow(i));
  tickLine(LD,1131,dRow(i),1141,dRow(i));tickLine(LD,2002,dRow(i),1992,dRow(i));
  if(particleCounts[i]>0){
    const el=mk(LD,'rect',{x:dCount(particleCounts[i]),y:dRow(i)-39,width:dCount(0)-dCount(particleCounts[i]),height:78,fill:'#808080',stroke:'#333','stroke-width':3});
    
    
  }
});
[fracECOC,fracOCEC,fracKCN,fracSul,fracNit,fracFe].forEach((row,i)=>{
  let acc=0;
  row.forEach((f,j)=>{
    if(f>0){
      const el=mk(LD,'rect',{x:dFrac(acc),y:dRow(i)-39,width:dFrac(acc+f)-dFrac(acc),height:78,fill:componentColors[j],stroke:'#333','stroke-width':2.5});
      
      
    }
    acc+=f;
  });
});
ticksDcount.forEach(v=>{
  if(v===15){tickLine(LD,dCount(v),2289,dCount(v),2300);tickLine(LD,dCount(v),3225,dCount(v),3214);}
  const el=mk(LD,'text',{x:v===0?1061:dCount(v),y:2261,'font-size':50,'text-anchor':'middle'},String(v));
  
  
});
ticksDfrac.forEach((v,i)=>{
  if(v>0){tickLine(LD,dFrac(v),2289,dFrac(v),2300);tickLine(LD,dFrac(v),3225,dFrac(v),3214);}
  const el=mk(LD,'text',{x:dFrac(v)-2,y:2261,'font-size':50,'text-anchor':'middle'},tickLabelsDfrac[i]);
  
  
});
frame(LD,201,2289,869,936);
frame(LD,1131,2289,871,936);

// legend
const LG=document.getElementById('legend');
const legendBoxX=[195,393,592,790,989,1186,1385,1583,1782];
const legendTextX=[283,481,680,879,1072,1276,1467,1671,1872];
componentNames.forEach((name,i)=>{
  const sw=mk(LG,'rect',{x:legendBoxX[i],y:3279,width:75,height:65,fill:componentColors[i],stroke:'#333','stroke-width':3});
  
  
  const t=mk(LG,'text',{x:legendTextX[i],y:3332,'font-size':56},name);
  
  
});
</script>
</body>
</html>
